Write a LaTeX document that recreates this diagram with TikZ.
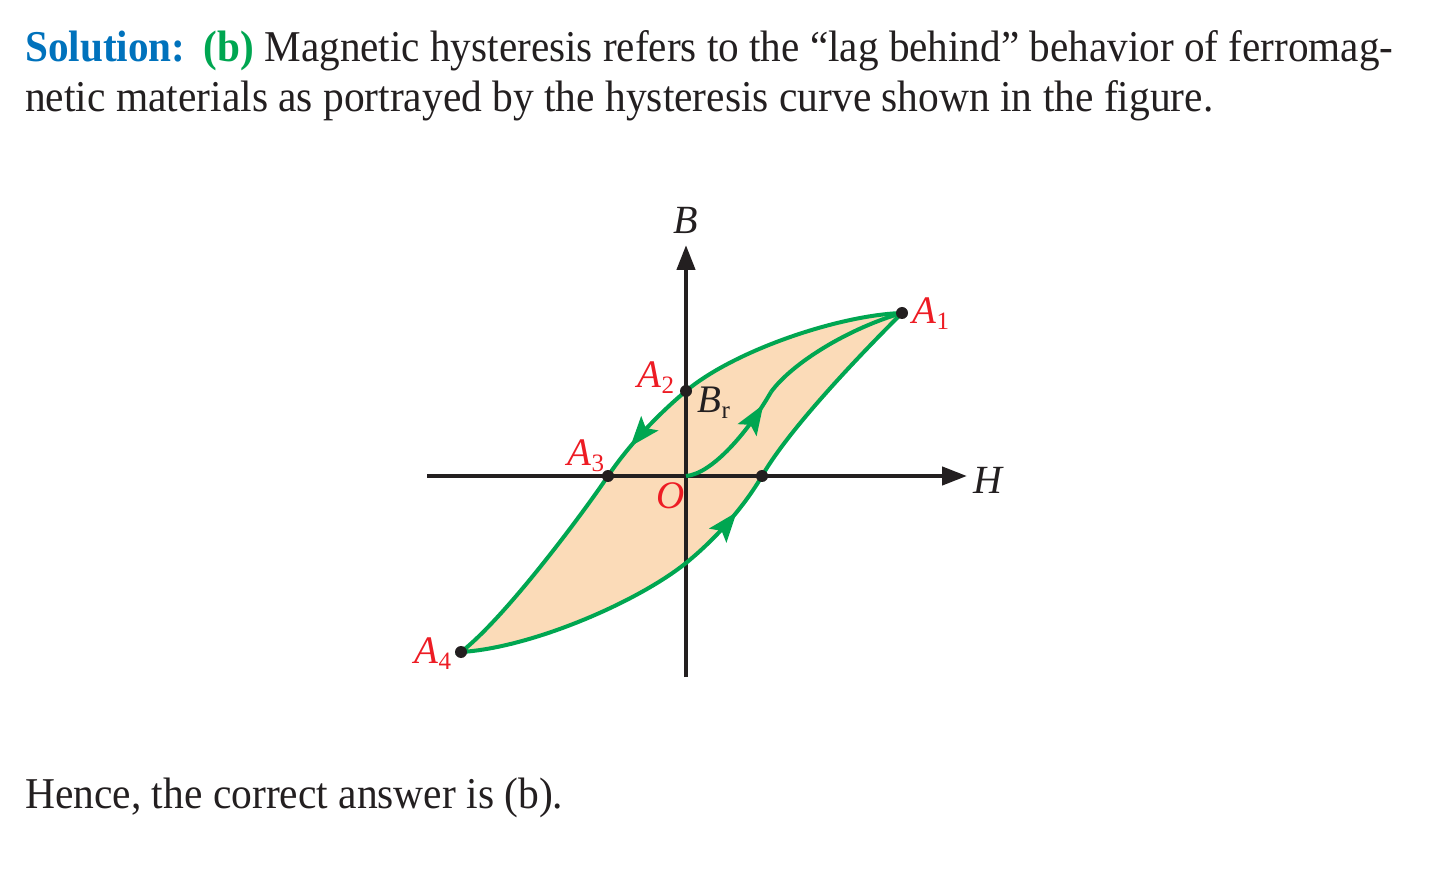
\documentclass[tikz,border=0pt]{standalone}
\usepackage{fontspec}
\usepackage{graphicx}
\setmainfont{Liberation Serif}
\usetikzlibrary{arrows.meta,decorations.markings}
\definecolor{peach}{RGB}{251,219,184}
\definecolor{cgreen}{RGB}{0,166,81}
\definecolor{cred}{RGB}{237,28,36}
\definecolor{cblue}{RGB}{0,114,188}
\definecolor{cblack}{RGB}{35,31,32}
\newcommand{\lab}[2]{{\itshape #1}\kern0.5pt\raisebox{-6pt}{\fontsize{25}{25}\selectfont #2}}
\tikzset{
  axis/.style={draw=cblack, line width=4.4pt, -{Triangle[length=25pt,width=18pt]}},
  curve/.style={draw=cgreen, line width=4pt},
  dot/.style={circle, fill=cblack, inner sep=0pt, minimum size=12pt},
  lbl/.style={text=cred, font=\fontsize{39}{40}\selectfont, inner sep=0pt, anchor=base west},
  axlbl/.style={text=cblack, font=\fontsize{40}{40}\selectfont\itshape, inner sep=0pt},
  body/.style={text=cblack, font=\fontsize{44}{50}\selectfont, inner sep=0pt, anchor=base west},
  midarrow/.style={postaction={decorate}, decoration={markings, mark=at position #1 with {\arrow{Stealth[length=30pt,width=22pt,inset=6pt,color=cgreen,fill=cgreen]}}}}
}
\begin{document}
\begin{tikzpicture}[x=1pt,y=-1pt]
\useasboundingbox (0,0) rectangle (1452,874);
% body text
\node[body] (t1) at (25,62) {\resizebox{1368pt}{\height}{\textcolor{cblue}{\bfseries Solution:}\hspace{0.45em}\textcolor{cgreen}{\bfseries (b)} Magnetic hysteresis refers to the “lag behind” behavior of ferromag-}};
\node[body] (t2) at (25,112) {\resizebox{1188pt}{\height}{netic materials as portrayed by the hysteresis curve shown in the figure.}};
\node[body] (t3) at (25,808) {\resizebox{538pt}{\height}{Hence, the correct answer is (b).}};
% key points
\coordinate (O) at (686,476);
\coordinate (A1) at (902,313);
\coordinate (A2) at (686,391);
\coordinate (A3) at (608,476);
\coordinate (A4) at (461,652);
\coordinate (HC) at (762,476);
\coordinate (LB) at (686,563);
\coordinate (M) at (771,392);
\coordinate (Hs) at (427,476);
\coordinate (He) at (967,476);
\coordinate (Bs) at (686,677);
\coordinate (Be) at (686,245);
% fill
\fill[peach] (A1) .. controls (840,315) and (735,350) .. (A2)
  .. controls (655,417) and (627.6,447) .. (A3)
  .. controls (582.8,513.4) and (505,618) .. (A4)
  .. controls (530,648) and (636,603) .. (LB)
  .. controls (718,537) and (745,505) .. (HC)
  .. controls (792,424) and (872,343) .. (A1) -- cycle;
% axes
\draw[axis] (Hs) -- (He);
\draw[axis] (Bs) -- (Be);
% curves
\draw[curve] (A1) .. controls (840,315) and (735,350) .. (A2);
\draw[curve, midarrow=0.68] (A2) .. controls (655,417) and (627.6,447) .. (A3);
\draw[curve] (A3) .. controls (582.8,513.4) and (505,618) .. (A4)
  .. controls (530,648) and (636,603) .. (LB);
\draw[curve, midarrow=0.62] (LB) .. controls (718,537) and (745,505) .. (HC);
\draw[curve] (HC) .. controls (792,424) and (872,343) .. (A1);
\draw[curve, midarrow=0.88] (O) .. controls (712,474) and (748,432) .. (M);
\draw[curve] (M) .. controls (793,362) and (850,328) .. (A1);
% dots
\node[dot] (dA1) at (A1) {};
\node[dot] (dA2) at (A2) {};
\node[dot] (dA3) at (A3) {};
\node[dot] (dA4) at (A4) {};
\node[dot] (dHC) at (HC) {};
% labels
\node[axlbl] (lB) at (686,220) {B};
\node[axlbl] (lH) at (988,480) {H};
\node[lbl] (lA1) at (912,324) {\lab{A}{1}};
\node[lbl] (lA2) at (637,388) {\lab{A}{2}};
\node[lbl] (lA3) at (567,466) {\lab{A}{3}};
\node[lbl] (lA4) at (414,663) {\lab{A}{4}};
\node[lbl] (lO) at (656,508) {\itshape O};
\node[lbl, text=cblack] (lBr) at (697,413) {\lab{B}{r}};
\end{tikzpicture}
\end{document}
